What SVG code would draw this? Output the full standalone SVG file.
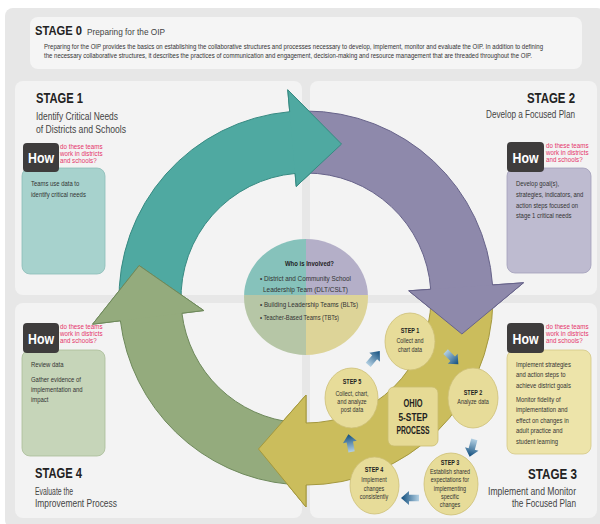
<svg xmlns="http://www.w3.org/2000/svg" width="600" height="524" viewBox="0 0 600 524">
<defs>
<style>
.t{font-family:"Liberation Sans",Arial,"DejaVu Sans",sans-serif;fill:#333}
.title{font-size:15px;font-weight:bold;fill:#222}
.sub{font-size:10px;fill:#444}
.body{font-size:7.4px;fill:#333}
.red{font-size:7.6px;fill:#e5336a}
.how{font-size:14px;font-weight:bold;fill:#fff}
.howbox{fill:#3e3c3c}
.panel{fill:#f3f3f3}
.step{fill:#e7dc99;stroke:#cdbf76;stroke-width:0.8}
.st{font-size:6.8px;fill:#333}
.stb{font-size:6.8px;font-weight:bold;fill:#222}
.ctr{font-size:8px;fill:#333}
.oh{font-size:10.5px;font-weight:bold;fill:#222}
</style>
<linearGradient id="blue" x1="0" y1="0" x2="1" y2="0">
<stop offset="0" stop-color="#b3d0e3"/>
<stop offset="1" stop-color="#0f4c7c"/>
</linearGradient>
<polygon id="barrow" points="-9,-3.2 1,-3.2 1,-7 9,0 1,7 1,3.2 -9,3.2" fill="url(#blue)"/>
<clipPath id="cc"><ellipse cx="306" cy="297" rx="62" ry="58"/></clipPath>
</defs>
<rect width="600" height="524" fill="#ffffff"/>
<rect x="5" y="8" width="600" height="520" rx="8" fill="#e7e7e7"/>

<g id="stage0">
<rect x="30" y="17" width="552" height="52" rx="8" fill="#f5f5f5"/>
<text class="t title" x="35" y="35" textLength="47" lengthAdjust="spacingAndGlyphs" style="font-size:13px">STAGE 0</text>
<text class="t sub" x="87" y="35" textLength="78" lengthAdjust="spacingAndGlyphs" style="font-size:9.5px">Preparing for the OIP</text>
<text class="t" x="44" y="49" style="font-size:6.5px" textLength="499" lengthAdjust="spacingAndGlyphs">Preparing for the OIP provides the basics on establishing the collaborative structures and processes necessary to develop, implement, monitor and evaluate the OIP.  In addition to defining</text>
<text class="t" x="44" y="58" style="font-size:6.5px" textLength="488" lengthAdjust="spacingAndGlyphs">the necessary collaborative structures, it describes the practices of communication and engagement, decision-making and resource management that are threaded throughout the OIP.</text>
</g>

<g id="stage1">
<rect class="panel" x="15" y="81" width="287" height="214" rx="8"/>
<text class="t title" x="36" y="103" textLength="47" lengthAdjust="spacingAndGlyphs">STAGE 1</text>
<text class="t sub" x="36" y="120" textLength="82" lengthAdjust="spacingAndGlyphs">Identify Critical Needs</text>
<text class="t sub" x="36" y="133" textLength="90" lengthAdjust="spacingAndGlyphs">of Districts and Schools</text>
<rect x="22" y="168" width="83" height="106" rx="8" fill="#a7d2cd" stroke="#8cbdb7" stroke-width="0.8"/>
<rect class="howbox" x="23" y="143" width="36" height="29" rx="4"/>
<text class="t how" x="28" y="163" textLength="26" lengthAdjust="spacingAndGlyphs">How</text>
<g transform="translate(60,0) scale(0.82,1)">
<text class="t red" x="0" y="149">do these teams</text>
<text class="t red" x="0" y="156">work in districts</text>
<text class="t red" x="0" y="163">and schools?</text>
</g>
<g transform="translate(31,0) scale(0.8,1)">
<text class="t body" x="0" y="186">Teams use data to</text>
<text class="t body" x="0" y="197">identify critical needs</text>
</g>
</g>

<g id="stage2">
<rect class="panel" x="310" y="81" width="287" height="214" rx="8"/>
<text class="t title" x="527" y="103" textLength="48" lengthAdjust="spacingAndGlyphs">STAGE 2</text>
<text class="t sub" x="486" y="118" textLength="89" lengthAdjust="spacingAndGlyphs">Develop a Focused Plan</text>
<rect x="507" y="168" width="84" height="105" rx="8" fill="#bebbd0" stroke="#a29eba" stroke-width="0.8"/>
<rect class="howbox" x="507" y="142" width="37" height="30" rx="4"/>
<text class="t how" x="512.5" y="163" textLength="26" lengthAdjust="spacingAndGlyphs">How</text>
<g transform="translate(546,0) scale(0.82,1)">
<text class="t red" x="0" y="148">do these teams</text>
<text class="t red" x="0" y="155">work in districts</text>
<text class="t red" x="0" y="162">and schools?</text>
</g>
<g transform="translate(516,0) scale(0.8,1)">
<text class="t body" x="0" y="186">Develop goal(s),</text>
<text class="t body" x="0" y="197">strategies, indicators, and</text>
<text class="t body" x="0" y="208">action steps focused on</text>
<text class="t body" x="0" y="218">stage 1 critical needs</text>
</g>
</g>

<g id="stage4">
<rect class="panel" x="15" y="303" width="287" height="215" rx="8"/>
<rect x="22" y="350" width="83" height="106" rx="8" fill="#c6d5b9" stroke="#a9bd98" stroke-width="0.8"/>
<rect class="howbox" x="23" y="323" width="36" height="30" rx="4"/>
<text class="t how" x="28" y="344" textLength="26" lengthAdjust="spacingAndGlyphs">How</text>
<g transform="translate(60,0) scale(0.82,1)">
<text class="t red" x="0" y="329">do these teams</text>
<text class="t red" x="0" y="336">work in districts</text>
<text class="t red" x="0" y="343">and schools?</text>
</g>
<g transform="translate(31,0) scale(0.8,1)">
<text class="t body" x="0" y="367">Review data</text>
<text class="t body" x="0" y="382">Gather evidence of</text>
<text class="t body" x="0" y="392">implementation and</text>
<text class="t body" x="0" y="402">impact</text>
</g>
<text class="t title" x="35" y="478" textLength="47" lengthAdjust="spacingAndGlyphs">STAGE 4</text>
<text class="t sub" x="35" y="495" textLength="38" lengthAdjust="spacingAndGlyphs">Evaluate the</text>
<text class="t sub" x="35" y="507" textLength="82" lengthAdjust="spacingAndGlyphs">Improvement Process</text>
</g>

<g id="stage3">
<rect class="panel" x="310" y="303" width="287" height="215" rx="8"/>
<rect x="507" y="350" width="84" height="104" rx="8" fill="#ede4aa" stroke="#d4c887" stroke-width="0.8"/>
<rect class="howbox" x="507" y="323" width="37" height="30" rx="4"/>
<text class="t how" x="512.5" y="344" textLength="26" lengthAdjust="spacingAndGlyphs">How</text>
<g transform="translate(546,0) scale(0.82,1)">
<text class="t red" x="0" y="329">do these teams</text>
<text class="t red" x="0" y="336">work in districts</text>
<text class="t red" x="0" y="343">and schools?</text>
</g>
<g transform="translate(516,0) scale(0.8,1)">
<text class="t body" x="0" y="367">Implement strategies</text>
<text class="t body" x="0" y="377">and action steps to</text>
<text class="t body" x="0" y="388">achieve district goals</text>
<text class="t body" x="0" y="402">Monitor fidelity of</text>
<text class="t body" x="0" y="412">implementation and</text>
<text class="t body" x="0" y="423">effect on changes in</text>
<text class="t body" x="0" y="433">adult practice and</text>
<text class="t body" x="0" y="444">student learning</text>
</g>
<text class="t title" x="528" y="479" textLength="49" lengthAdjust="spacingAndGlyphs">STAGE 3</text>
<text class="t sub" x="488" y="495" textLength="88" lengthAdjust="spacingAndGlyphs">Implement and Monitor</text>
<text class="t sub" x="512" y="507" textLength="64" lengthAdjust="spacingAndGlyphs">the Focused Plan</text>
</g>

<g id="connectors" stroke-width="1" stroke-linejoin="miter">
<path id="arrow-teal" d="M119.11,304.53 A187,187 0 0 1 289.70,111.71 L287.78,89.80 L341.54,144.05 L296.24,186.43 L295.11,173.48 A125,125 0 0 0 181.08,302.36 Z" fill="#4fa9a1" stroke="#378a82"/>
<path id="arrow-purple" d="M306,111 A187,187 0 0 1 492.54,284.95 L523.47,282.79 L461.90,334.00 L408.75,290.81 L430.70,289.28 A125,125 0 0 0 306,173 Z" fill="#8e89ab" stroke="#67638a"/>
<path id="arrow-yellow" d="M492.97,301.26 A187,187 0 0 1 306,485 L306,507 L258.50,449.00 L306,395 L306,423 A125,125 0 0 0 430.98,300.18 Z" fill="#cbbd5c" stroke="#a4983e"/>
<path id="arrow-green" d="M289.70,484.29 A187,187 0 0 1 120.39,320.79 L92.60,324.20 L139.12,265.56 L203.77,310.55 L181.93,313.23 A125,125 0 0 0 295.11,422.52 Z" fill="#94ab7d" stroke="#6e895b"/>
<polygon points="287.78,89.80 341.54,144.05 296.24,186.43" fill="#4fa9a1"/>
<polyline points="289.70,111.71 287.78,89.80 341.54,144.05 296.24,186.43 295.11,173.48" fill="none" stroke="#378a82"/>
<polygon points="523.47,282.79 461.90,334.00 408.75,290.81" fill="#8e89ab"/>
<polyline points="492.54,284.95 523.47,282.79 461.90,334.00 408.75,290.81 430.70,289.28" fill="none" stroke="#67638a"/>
<polygon points="306,507 258.50,449.00 306,395" fill="#cbbd5c"/>
<polyline points="306,485 306,507 258.50,449.00 306,395 306,423" fill="none" stroke="#a4983e"/>
<polygon points="92.60,324.20 139.12,265.56 203.77,310.55" fill="#94ab7d"/>
<polyline points="120.39,320.79 92.60,324.20 139.12,265.56 203.77,310.55 181.93,313.23" fill="none" stroke="#6e895b"/>
</g>

<g id="who-is-involved">
<g clip-path="url(#cc)">
<rect x="240" y="235" width="66" height="60" fill="#86c2bb"/>
<rect x="306" y="235" width="66" height="60" fill="#b4afc8"/>
<rect x="240" y="295" width="66" height="65" fill="#b6c6a6"/>
<rect x="306" y="295" width="66" height="65" fill="#ddd498"/>
</g>
<text class="t" x="285" y="266" style="font-size:8px;font-weight:bold;fill:#1e1e1e" textLength="49" lengthAdjust="spacingAndGlyphs">Who is Involved?</text>
<text class="t ctr" x="260" y="281" textLength="91" lengthAdjust="spacingAndGlyphs">• District and Community School</text>
<text class="t ctr" x="263" y="292" textLength="85" lengthAdjust="spacingAndGlyphs">Leadership Team (DLT/CSLT)</text>
<text class="t ctr" x="260" y="307" textLength="98" lengthAdjust="spacingAndGlyphs">• Building Leadership Teams (BLTs)</text>
<text class="t ctr" x="260" y="320" textLength="79" lengthAdjust="spacingAndGlyphs">• Teacher-Based Teams (TBTs)</text>
</g>

<g id="ohio-process">
<rect x="388" y="387" width="50" height="59" rx="6" fill="#e6da95" stroke="#c9bc6e" stroke-width="0.8"/>
<text class="t oh" x="403.5" y="407" textLength="19" lengthAdjust="spacingAndGlyphs">OHIO</text>
<text class="t oh" x="398.5" y="421" textLength="29" lengthAdjust="spacingAndGlyphs">5-STEP</text>
<text class="t oh" x="396.5" y="434" textLength="33" lengthAdjust="spacingAndGlyphs">PROCESS</text>
</g>

<g id="step1">
<ellipse class="step" cx="410" cy="341.5" rx="25" ry="28.5"/>
<g transform="translate(410,0) scale(0.8,1)" text-anchor="middle">
<text class="t stb" x="0" y="333.5">STEP 1</text>
<text class="t st" x="0" y="343.5">Collect and</text>
<text class="t st" x="0" y="352">chart data</text>
</g>
</g>
<g id="step2">
<ellipse class="step" cx="473" cy="398" rx="25" ry="30"/>
<g transform="translate(473,0) scale(0.8,1)" text-anchor="middle">
<text class="t stb" x="0" y="395">STEP 2</text>
<text class="t st" x="0" y="404.5">Analyze data</text>
</g>
</g>
<g id="step3">
<ellipse class="step" cx="451" cy="484" rx="27" ry="31"/>
<g transform="translate(450,0) scale(0.8,1)" text-anchor="middle">
<text class="t stb" x="0" y="465">STEP 3</text>
<text class="t st" x="0" y="474">Establish shared</text>
<text class="t st" x="0" y="482">expectations for</text>
<text class="t st" x="0" y="491">implementing</text>
<text class="t st" x="0" y="499">specific</text>
<text class="t st" x="0" y="507">changes</text>
</g>
</g>
<g id="step4">
<ellipse class="step" cx="374.5" cy="485.5" rx="24.5" ry="28.5"/>
<g transform="translate(374,0) scale(0.8,1)" text-anchor="middle">
<text class="t stb" x="0" y="472">STEP 4</text>
<text class="t st" x="0" y="482">Implement</text>
<text class="t st" x="0" y="491">changes</text>
<text class="t st" x="0" y="499">consistently</text>
</g>
</g>
<g id="step5">
<ellipse class="step" cx="351.5" cy="398" rx="26.5" ry="30"/>
<g transform="translate(352,0) scale(0.8,1)" text-anchor="middle">
<text class="t stb" x="0" y="384">STEP 5</text>
<text class="t st" x="0" y="396">Collect, chart,</text>
<text class="t st" x="0" y="404">and analyze</text>
<text class="t st" x="0" y="412">post data</text>
</g>
</g>

<g id="step-connectors">
<use href="#barrow" transform="translate(452,358) rotate(45)"/>
<use href="#barrow" transform="translate(472,448) rotate(105)"/>
<use href="#barrow" transform="translate(410,498) rotate(180)"/>
<use href="#barrow" transform="translate(350,443) rotate(-100)"/>
<use href="#barrow" transform="translate(374,358) rotate(-50)"/>
</g>
</svg>
